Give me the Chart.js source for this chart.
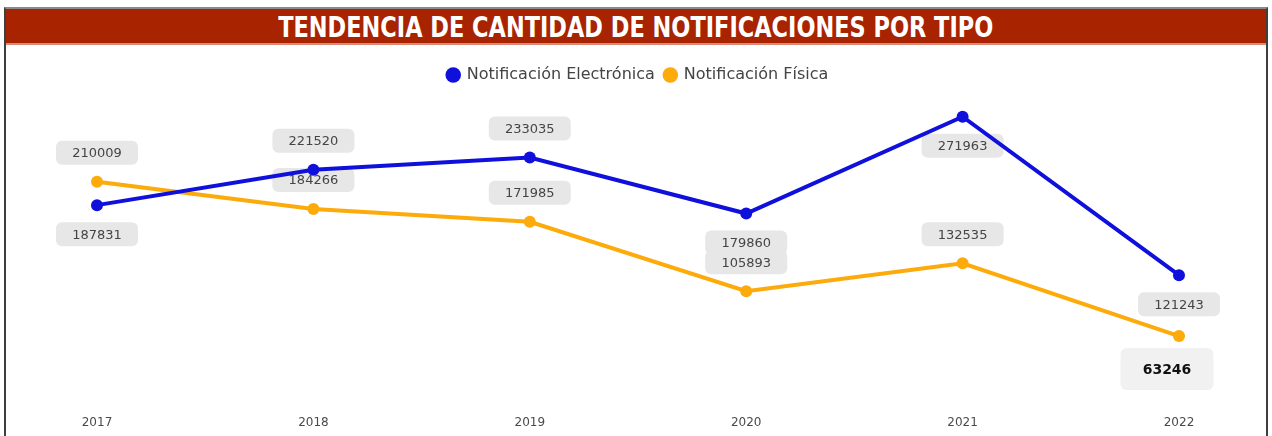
<!DOCTYPE html>
<html>
<head>
<meta charset="utf-8">
<script src="https://cdn.jsdelivr.net/npm/chart.js@4.4.1/dist/chart.umd.min.js"></script>
<style>
  html, body { margin: 0; padding: 0; background: #ffffff; }
  #wrap { position: relative; width: 1272px; height: 436px; overflow: hidden; background: #fff; }
  #frame { position: absolute; left: 4px; top: 7px; width: 1260px; height: 440px;
           border-left: 2px solid #3f3f3f; border-right: 2px solid #3f3f3f; border-top: 2px solid #8a8a8a; }
  #title { position: absolute; left: 6px; top: 9px; width: 1260px; height: 34px; background: #A82300;
           border-bottom: 2px solid #D98A78; text-align: center; }
  #title span { display: inline-block; color: #fff;
           font-family: "DejaVu Sans Condensed", "Liberation Sans Narrow", sans-serif; font-weight: bold;
           font-size: 29px; line-height: 36px; transform: scaleX(0.86); transform-origin: center; white-space: nowrap; }
  canvas { position: absolute; left: 0; top: 0; }
</style>
</head>
<body>
<div id="wrap">
  <div id="frame"></div>
  <div id="title"><span>TENDENCIA DE CANTIDAD DE NOTIFICACIONES POR TIPO</span></div>
  <canvas id="c" width="1272" height="443"></canvas>
</div>
<script>
const years = ['2017', '2018', '2019', '2020', '2021', '2022'];
const electronica = [187831, 221520, 233035, 179860, 271963, 121243];
const fisica = [210009, 184266, 171985, 105893, 132535, 63246];
const electronicaLabelSide = ['below', 'above', 'above', 'below', 'below', 'below'];
const fisicaLabelSide = ['above', 'above', 'above', 'above', 'above', 'below'];
const seriesNames = ['Notificación Electrónica', 'Notificación Física'];

const labelPlugin = {
  id: 'valueBoxes',
  beforeDatasetsDraw(chart) {
    const ctx = chart.ctx;
    const sides = [electronicaLabelSide, fisicaLabelSide];
    chart.data.datasets.forEach((ds, di) => {
      const meta = chart.getDatasetMeta(di);
      meta.data.forEach((pt, i) => {
        const side = sides[di][i];
        const highlight = (di === 1 && i === ds.data.length - 1);
        let w = 82, h = 24, dy = 29, dx = 0, fill = '#E7E7E7', col = '#454545', font = '13px "DejaVu Sans", sans-serif';
        if (highlight) { w = 93; h = 42; dy = 33; dx = -12; fill = '#F1F1F1'; col = '#111111'; font = '600 14px "DejaVu Sans", sans-serif'; }
        const cx = pt.x + dx;
        const cy = side === 'above' ? pt.y - dy : pt.y + dy;
        ctx.save();
        ctx.fillStyle = fill;
        ctx.beginPath();
        ctx.roundRect(cx - w / 2, cy - h / 2, w, h, 6);
        ctx.fill();
        ctx.fillStyle = col;
        ctx.font = font;
        ctx.textAlign = 'center';
        ctx.textBaseline = 'middle';
        ctx.fillText(String(ds.data[i]), cx, cy + 1);
        ctx.restore();
      });
    });
  }
};

new Chart(document.getElementById('c'), {
  type: 'line',
  data: {
    labels: years,
    datasets: [
      { label: seriesNames[0], data: electronica, borderColor: '#1010DC', backgroundColor: '#1010DC',
        pointBackgroundColor: '#1010DC', pointBorderColor: '#1010DC', borderWidth: 4, pointRadius: 6, pointBorderWidth: 0, tension: 0 },
      { label: seriesNames[1], data: fisica, borderColor: '#FDAA0B', backgroundColor: '#FDAA0B',
        pointBackgroundColor: '#FDAA0B', pointBorderColor: '#FDAA0B', borderWidth: 4, pointRadius: 6, pointBorderWidth: 0, tension: 0 }
    ]
  },
  options: {
    responsive: false,
    devicePixelRatio: 1,
    animation: false,
    layout: { padding: { left: 97, right: 93, top: 57, bottom: 0 } },
    plugins: {
      tooltip: { enabled: false },
      legend: {
        display: true,
        position: 'top',
        labels: {
          usePointStyle: true,
          pointStyle: 'circle',
          boxHeight: 11,
          boxWidth: 11,
          padding: 10,
          color: '#444444',
          font: { family: '"DejaVu Sans", sans-serif', size: 16 },
          generateLabels(chart) {
            const items = Chart.defaults.plugins.legend.labels.generateLabels(chart);
            items.forEach(it => { it.lineWidth = 0; });
            return items;
          }
        }
      }
    },
    scales: {
      x: {
        offset: false,
        grid: { display: false, drawTicks: false, tickLength: 0 },
        border: { display: false },
        ticks: { color: '#4a4a4a', padding: 13, font: { family: '"DejaVu Sans", sans-serif', size: 12 } }
      },
      y: {
        display: false,
        min: 0,
        max: 294500
      }
    }
  },
  plugins: [labelPlugin]
});
</script>
</body>
</html>
